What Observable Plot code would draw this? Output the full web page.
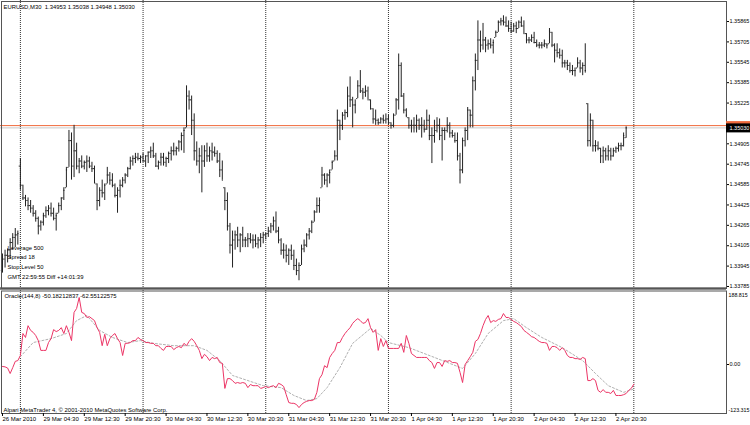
<!DOCTYPE html>
<html><head><meta charset="utf-8">
<script src="https://cdn.jsdelivr.net/npm/d3@7"></script>
<script src="https://cdn.jsdelivr.net/npm/@observablehq/plot@0.6"></script>
<style>
html,body{margin:0;padding:0;background:#fff;overflow:hidden;}
#chart{position:relative;width:750px;height:425px;background:#fff;overflow:hidden;}
#chart svg{position:absolute;left:0;display:block;overflow:visible;}
</style></head><body><div id="chart"></div>
<script>
// ---- price bars (EURUSD M30), bar 0 = 26 Mar 2010 20:30 ----
const high = [
1.3404,1.3407,1.3408,1.3416,1.3420,1.3424,1.3422,1.3479,1.3458,1.3450,
1.3448,1.3446,1.3442,1.3438,1.3433,1.3430,1.3436,1.3441,1.3442,1.3444,
1.3440,1.3436,1.3444,1.3448,1.3456,1.3472,1.3501,1.3499,1.3505,1.3491,
1.3479,1.3481,1.3477,1.3481,1.3480,1.3476,1.3473,1.3459,1.3456,1.3462,
1.3459,1.3472,1.3468,1.3467,1.3459,1.3456,1.3462,1.3464,1.3467,1.3472,
1.3480,1.3481,1.3483,1.3483,1.3481,1.3483,1.3481,1.3484,1.3488,1.3491,
1.3483,1.3477,1.3483,1.3483,1.3480,1.3484,1.3488,1.3491,1.3488,1.3493,
1.3499,1.3503,1.3536,1.3532,1.3528,1.3514,1.3492,1.3487,1.3489,1.3489,
1.3491,1.3488,1.3491,1.3488,1.3485,1.3483,1.3477,1.3456,1.3452,1.3428,
1.3422,1.3422,1.3425,1.3420,1.3425,1.3417,1.3420,1.3420,1.3419,1.3419,
1.3417,1.3420,1.3421,1.3420,1.3425,1.3428,1.3433,1.3437,1.3425,1.3416,
1.3412,1.3411,1.3408,1.3411,1.3407,1.3400,1.3397,1.3411,1.3415,1.3420,
1.3424,1.3430,1.3438,1.3448,1.3448,1.3472,1.3467,1.3467,1.3470,1.3477,
1.3485,1.3517,1.3509,1.3515,1.3517,1.3535,1.3543,1.3527,1.3525,1.3540,
1.3548,1.3534,1.3536,1.3535,1.3525,1.3518,1.3517,1.3510,1.3511,1.3513,
1.3514,1.3513,1.3507,1.3514,1.3526,1.3561,1.3554,1.3530,1.3518,1.3511,
1.3509,1.3511,1.3513,1.3510,1.3511,1.3509,1.3517,1.3513,1.3503,1.3509,
1.3511,1.3510,1.3503,1.3503,1.3511,1.3507,1.3501,1.3499,1.3499,1.3483,
1.3495,1.3503,1.3519,1.3517,1.3543,1.3561,1.3587,1.3579,1.3585,1.3574,
1.3572,1.3573,1.3572,1.3579,1.3587,1.3589,1.3591,1.3590,1.3587,1.3586,
1.3585,1.3586,1.3587,1.3590,1.3587,1.3577,1.3574,1.3576,1.3578,1.3572,
1.3570,1.3570,1.3572,1.3569,1.3581,1.3578,1.3569,1.3569,1.3565,1.3564,
1.3556,1.3556,1.3554,1.3552,1.3550,1.3558,1.3556,1.3554,1.3569,1.3522,
1.3514,1.3509,1.3493,1.3492,1.3487,1.3488,1.3487,1.3489,1.3487,1.3487,
1.3488,1.3491,1.3491,1.3499,1.35038];
const low = [
1.3389,1.3393,1.3397,1.3400,1.3407,1.3409,1.3411,1.3454,1.3446,1.3441,
1.3438,1.3436,1.3433,1.3429,1.3419,1.3422,1.3426,1.3432,1.3434,1.3433,
1.3430,1.3422,1.3436,1.3438,1.3446,1.3456,1.3472,1.3462,1.3464,1.3470,
1.3467,1.3471,1.3470,1.3468,1.3471,1.3468,1.3459,1.3438,1.3441,1.3448,
1.3446,1.3459,1.3458,1.3456,1.3448,1.3436,1.3448,1.3456,1.3459,1.3464,
1.3470,1.3473,1.3475,1.3477,1.3475,1.3476,1.3472,1.3475,1.3479,1.3479,
1.3472,1.3470,1.3473,1.3473,1.3472,1.3475,1.3477,1.3481,1.3481,1.3484,
1.3485,1.3483,1.3503,1.3517,1.3497,1.3477,1.3473,1.3467,1.3452,1.3472,
1.3476,1.3476,1.3477,1.3480,1.3475,1.3464,1.3462,1.3438,1.3422,1.3404,
1.3393,1.3407,1.3409,1.3405,1.3409,1.3409,1.3409,1.3412,1.3408,1.3409,
1.3408,1.3409,1.3412,1.3415,1.3417,1.3420,1.3422,1.3420,1.3412,1.3403,
1.3400,1.3397,1.3395,1.3399,1.3391,1.3387,1.3383,1.3395,1.3405,1.3409,
1.3415,1.3420,1.3429,1.3436,1.3436,1.3456,1.3458,1.3456,1.3459,1.3470,
1.3477,1.3477,1.3493,1.3501,1.3509,1.3511,1.3519,1.3503,1.3514,1.3526,
1.3530,1.3525,1.3527,1.3525,1.3517,1.3506,1.3505,1.3505,1.3506,1.3506,
1.3506,1.3505,1.3502,1.3503,1.3513,1.3517,1.3527,1.3514,1.3511,1.3502,
1.3499,1.3499,1.3499,1.3501,1.3495,1.3499,1.3501,1.3493,1.3475,1.3491,
1.3499,1.3493,1.3477,1.3493,1.3499,1.3495,1.3495,1.3491,1.3477,1.3459,
1.3467,1.3488,1.3493,1.3503,1.3503,1.3532,1.3548,1.3562,1.3564,1.3562,
1.3564,1.3565,1.3561,1.3574,1.3578,1.3583,1.3583,1.3582,1.3578,1.3577,
1.3578,1.3577,1.3581,1.3582,1.3577,1.3569,1.3569,1.3570,1.3569,1.3566,
1.3565,1.3565,1.3566,1.3565,1.3569,1.3566,1.3554,1.3558,1.3557,1.3550,
1.3550,1.3548,1.3546,1.3544,1.3543,1.3550,1.3546,1.3544,1.3546,1.3488,
1.3488,1.3484,1.3484,1.3485,1.3475,1.3475,1.3477,1.3477,1.3477,1.3480,
1.3483,1.3484,1.3485,1.3488,1.34948];
const open = [
1.3391,1.3400,1.3403,1.3407,1.3413,1.3417,1.3419,1.3473,1.3458,1.3448,
1.3446,1.3442,1.3440,1.3436,1.3432,1.3426,1.3429,1.3434,1.3438,1.3440,
1.3436,1.3432,1.3436,1.3442,1.3448,1.3456,1.3472,1.3493,1.3473,1.3485,
1.3473,1.3477,1.3473,1.3476,1.3477,1.3473,1.3471,1.3459,1.3446,1.3454,
1.3452,1.3459,1.3466,1.3462,1.3458,1.3450,1.3454,1.3458,1.3462,1.3466,
1.3471,1.3477,1.3479,1.3480,1.3479,1.3480,1.3477,1.3481,1.3484,1.3485,
1.3481,1.3473,1.3476,1.3480,1.3476,1.3479,1.3483,1.3485,1.3485,1.3487,
1.3492,1.3497,1.3503,1.3528,1.3525,1.3509,1.3485,1.3477,1.3481,1.3477,
1.3485,1.3481,1.3485,1.3484,1.3483,1.3477,1.3470,1.3456,1.3446,1.3426,
1.3411,1.3415,1.3419,1.3415,1.3419,1.3415,1.3415,1.3416,1.3415,1.3415,
1.3412,1.3415,1.3417,1.3419,1.3420,1.3422,1.3426,1.3430,1.3422,1.3415,
1.3407,1.3407,1.3403,1.3407,1.3403,1.3395,1.3391,1.3395,1.3408,1.3411,
1.3419,1.3422,1.3429,1.3437,1.3442,1.3456,1.3466,1.3462,1.3466,1.3470,
1.3477,1.3481,1.3509,1.3505,1.3513,1.3515,1.3528,1.3525,1.3521,1.3526,
1.3536,1.3532,1.3531,1.3532,1.3525,1.3518,1.3510,1.3509,1.3507,1.3510,
1.3509,1.3510,1.3507,1.3505,1.3513,1.3525,1.3552,1.3528,1.3517,1.3511,
1.3505,1.3505,1.3505,1.3509,1.3505,1.3505,1.3502,1.3509,1.3497,1.3497,
1.3501,1.3505,1.3497,1.3501,1.3501,1.3505,1.3499,1.3497,1.3493,1.3481,
1.3470,1.3493,1.3501,1.3517,1.3513,1.3540,1.3556,1.3572,1.3568,1.3572,
1.3568,1.3569,1.3568,1.3574,1.3578,1.3586,1.3587,1.3586,1.3583,1.3581,
1.3579,1.3583,1.3581,1.3586,1.3583,1.3577,1.3572,1.3572,1.3574,1.3570,
1.3568,1.3568,1.3568,1.3569,1.3569,1.3578,1.3568,1.3564,1.3562,1.3560,
1.3554,1.3554,1.3552,1.3548,1.3548,1.3550,1.3554,1.3550,1.3552,1.3522,
1.3493,1.3509,1.3489,1.3489,1.3487,1.3481,1.3485,1.3481,1.3485,1.3481,
1.3485,1.3487,1.3489,1.3489,1.34953];
const close = [
1.3400,1.3403,1.3407,1.3413,1.3417,1.3419,1.3420,1.3458,1.3448,1.3446,
1.3442,1.3440,1.3436,1.3432,1.3426,1.3429,1.3434,1.3438,1.3440,1.3436,
1.3432,1.3434,1.3442,1.3448,1.3454,1.3470,1.3493,1.3473,1.3485,1.3473,
1.3477,1.3473,1.3476,1.3477,1.3473,1.3471,1.3460,1.3446,1.3454,1.3452,
1.3458,1.3466,1.3462,1.3458,1.3450,1.3454,1.3458,1.3462,1.3466,1.3471,
1.3477,1.3479,1.3480,1.3479,1.3480,1.3477,1.3481,1.3484,1.3485,1.3481,
1.3473,1.3476,1.3480,1.3476,1.3479,1.3483,1.3485,1.3485,1.3487,1.3492,
1.3497,1.3501,1.3528,1.3525,1.3509,1.3485,1.3477,1.3481,1.3477,1.3485,
1.3481,1.3485,1.3484,1.3483,1.3477,1.3470,1.3462,1.3446,1.3426,1.3411,
1.3415,1.3419,1.3415,1.3419,1.3415,1.3415,1.3416,1.3415,1.3415,1.3412,
1.3415,1.3417,1.3419,1.3420,1.3422,1.3426,1.3430,1.3422,1.3415,1.3407,
1.3407,1.3403,1.3407,1.3403,1.3395,1.3391,1.3395,1.3408,1.3411,1.3419,
1.3422,1.3429,1.3437,1.3442,1.3446,1.3466,1.3462,1.3466,1.3468,1.3476,
1.3481,1.3509,1.3505,1.3513,1.3515,1.3528,1.3525,1.3521,1.3521,1.3536,
1.3532,1.3531,1.3532,1.3525,1.3518,1.3510,1.3509,1.3507,1.3510,1.3509,
1.3510,1.3507,1.3505,1.3513,1.3525,1.3552,1.3528,1.3517,1.3513,1.3505,
1.3505,1.3505,1.3509,1.3505,1.3505,1.3502,1.3509,1.3497,1.3497,1.3501,
1.3505,1.3497,1.3501,1.3501,1.3505,1.3499,1.3497,1.3493,1.3481,1.3470,
1.3493,1.3501,1.3517,1.3513,1.3540,1.3556,1.3572,1.3568,1.3572,1.3568,
1.3569,1.3568,1.3570,1.3578,1.3586,1.3587,1.3586,1.3583,1.3581,1.3579,
1.3583,1.3581,1.3586,1.3583,1.3577,1.3572,1.3572,1.3574,1.3570,1.3568,
1.3568,1.3568,1.3569,1.3568,1.3579,1.3568,1.3564,1.3562,1.3560,1.3554,
1.3554,1.3552,1.3548,1.3548,1.3548,1.3554,1.3550,1.3552,1.3548,1.3493,
1.3509,1.3489,1.3489,1.3487,1.3481,1.3485,1.3481,1.3485,1.3481,1.3485,
1.3487,1.3489,1.3489,1.3497,1.35030];

// ---- Oracle(144,8) indicator, one value per bar ----
const oracle = [
-5,-6,-9,-23,-8,8,10,23,79,69,
99,87,82,74,61,36,36,36,56,66,
89,84,87,94,79,99,82,61,133,143,
171,133,130,120,122,117,112,94,82,48,
77,48,66,74,79,66,56,23,54,54,
56,61,61,69,64,61,56,56,54,54,
48,48,41,36,46,46,46,38,43,46,
43,54,48,59,66,59,48,36,15,26,
20,10,18,15,18,5,3,-61,-36,-36,
-41,-48,-46,-48,-46,-48,-59,-51,-54,-54,
-54,-61,-59,-56,-59,-56,-54,-59,-48,-51,
-56,-77,-97,-99,-99,-102,-110,-102,-97,-94,
-92,-92,-89,-71,-36,-26,-3,-8,18,28,
36,56,56,69,79,87,94,105,112,117,
112,105,107,117,94,82,89,36,66,46,
61,41,41,41,41,41,54,31,74,54,
28,23,18,18,18,18,18,10,5,-10,
5,5,-5,10,8,10,5,5,3,-20,
-46,0,10,20,31,59,64,79,99,115,
125,107,112,110,115,117,130,120,120,115,
110,107,102,97,87,82,77,71,69,64,
59,56,56,54,36,46,46,43,36,43,
36,23,18,18,15,15,13,18,15,-41,
-41,-36,-41,-66,-71,-64,-71,-71,-74,-66,
-79,-79,-79,-77,-74,-66,-61,-50.18];
// signal line (read at these bars)
const signalBar = [7,12,19,25,29,33,38,43,49,54,59,67,75,80,85,90,96,102,109,114,119,123,127,132,137,144,148,151,159,169,180,185,190,196,200,205,211,219,227,232,237,243,247];
const signalVal = [20,56,66,79,112,125,87,69,56,61,54,48,48,36,10,-28,-41,-54,-59,-79,-92,-87,-59,-8,54,92,74,56,43,18,-10,28,79,112,117,94,69,43,10,-23,-54,-71,-62.55];

// ---- axes / labels ----
const dayBars = [7,55,103,151,199,247];
const timeTickBars = [0,16,32,48,64,80,96,112,128,144,160,176,192,208,224,240];
const timeTickLabels = ["26 Mar 2010","29 Mar 04:30","29 Mar 12:30","29 Mar 20:30","30 Mar 04:30","30 Mar 12:30","30 Mar 20:30","31 Mar 04:30","31 Mar 12:30","31 Mar 20:30","1 Apr 04:30","1 Apr 12:30","1 Apr 20:30","2 Apr 04:30","2 Apr 12:30","2 Apr 20:30"];
const priceTicks = [1.35865,1.35705,1.35545,1.35385,1.35225,1.34905,1.34745,1.34585,1.34425,1.34265,1.34105,1.33945,1.33785];
const bid = 1.35030, ask = 1.35048;
const indMax = 188.8159, indMin = -123.3159;
const headerText = "EURUSD,M30\u00a0\u00a01.34953 1.35038 1.34948 1.35030";
const infoText = "Leverage 500\nSpread 18\nStop Level 50\nGMT 22:59:55 Diff +14:01:39";
const oracleText = "Oracle(144,8) -50.18212837 -62.55122575";
const copyText = "Alpari MetaTrader 4, \u00a9 2001-2010 MetaQuotes Software Corp.";

// ---- build ----
const bars = d3.range(high.length).map(i => ({i, o: open[i], h: high[i], l: low[i], c: close[i]}));
const oracleRows = oracle.map((v, i) => ({i, v}));
const signalRows = signalBar.map((b, k) => ({i: b, v: signalVal[k]}));
const labelMap = new Map(timeTickBars.map((b, k) => [b, timeTickLabels[k]]));
const trunc3 = v => (Math.trunc(v * 1000) / 1000).toFixed(3);

const xDomain = [-0.782, 283.26];
const pxPerBar = 726 / (xDomain[1] - xDomain[0]);
const boxBars = 30 / pxPerBar;
const css = "font-family:'Liberation Sans',Arial,sans-serif;font-size:5.9px;background:transparent;color:#000;overflow:visible;";
const barColor = "#222";
const gridStyle = {stroke: "#333", strokeDasharray: "1,1"};

const topPlot = Plot.plot({
  width: 750, height: 288, marginTop: 0, marginBottom: 0, marginLeft: 0, marginRight: 24,
  style: css,
  x: {domain: xDomain, axis: null, label: null},
  y: {domain: [1.337692, 1.3603], axis: null, label: null},
  marks: [
    Plot.ruleX(dayBars, gridStyle),
    Plot.ruleY([bid], {stroke: "#c8c8c8"}),
    Plot.ruleY([ask], {stroke: "#f06a3c"}),
    Plot.ruleX(bars, {x: "i", y1: "l", y2: "h", stroke: barColor}),
    Plot.ruleY(bars, {y: "o", x1: d => d.i - 0.45, x2: "i", stroke: barColor}),
    Plot.ruleY(bars, {y: "c", x1: "i", x2: d => d.i + 0.45, stroke: barColor}),
    Plot.ruleY([1.337692], {stroke: "#666", strokeWidth: 2.5}),
    Plot.frame({stroke: "#555", insetLeft: 1, insetTop: 1}),
    Plot.axisY(priceTicks, {anchor: "right", label: null, tickFormat: d3.format(".5f"), tickSize: 2, tickPadding: 1, fontSize: 5.5}),
    Plot.ruleY([ask], {x1: xDomain[1], x2: xDomain[1] + boxBars, stroke: "#f06a3c", strokeWidth: 9}),
    Plot.ruleY([bid], {x1: xDomain[1], x2: xDomain[1] + boxBars, stroke: "#000", strokeWidth: 9}),
    Plot.text([bid], {y: d => d, frameAnchor: "right", dx: 3, textAnchor: "start", fill: "white", fontSize: 5.5, text: d3.format(".5f")}),
    Plot.text([headerText], {frameAnchor: "top-left", dx: 3, dy: 4, lineAnchor: "top", textAnchor: "start"}),
    Plot.text([infoText], {frameAnchor: "bottom-left", dx: 7, dy: -10, lineAnchor: "bottom", textAnchor: "start", lineHeight: 1.62})
  ]
});

const bottomPlot = Plot.plot({
  width: 750, height: 137, marginTop: 2, marginBottom: 12, marginLeft: 0, marginRight: 24,
  style: css,
  x: {domain: xDomain, axis: null, label: null},
  y: {domain: [-125, indMax], axis: null, label: null},
  marks: [
    Plot.ruleX(dayBars, gridStyle),
    Plot.line(signalRows, {x: "i", y: "v", stroke: "#b0b0b0", strokeWidth: 1, strokeDasharray: "2,2"}),
    Plot.line(oracleRows, {x: "i", y: "v", stroke: "#ec3566", strokeWidth: 1}),
    Plot.frame({stroke: "#555", insetLeft: 1, insetTop: 0.5}),
    Plot.axisX(timeTickBars, {anchor: "bottom", label: null, tickFormat: d => labelMap.get(d), tickSize: 3, tickPadding: 0, textAnchor: "start", fontSize: 6}),
    Plot.axisY([0], {anchor: "right", label: null, tickFormat: d3.format(".2f"), tickSize: 2, tickPadding: 1, fontSize: 5.5}),
    Plot.text([indMax], {y: d => d, frameAnchor: "right", dx: 2, dy: 5, textAnchor: "start", fontSize: 5.3, text: trunc3}),
    Plot.text([indMin], {y: d => d, frameAnchor: "right", dx: 2, dy: -3, textAnchor: "start", fontSize: 5.3, text: trunc3}),
    Plot.text([oracleText], {frameAnchor: "top-left", dx: 4, dy: 3, lineAnchor: "top", textAnchor: "start"}),
    Plot.text([copyText], {frameAnchor: "bottom-left", dx: 3, dy: -2, lineAnchor: "bottom", textAnchor: "start"})
  ]
});

const chart = document.getElementById("chart");
topPlot.style.top = "0px";
bottomPlot.style.top = "288px";
chart.appendChild(topPlot);
chart.appendChild(bottomPlot);
</script>
</body></html>
